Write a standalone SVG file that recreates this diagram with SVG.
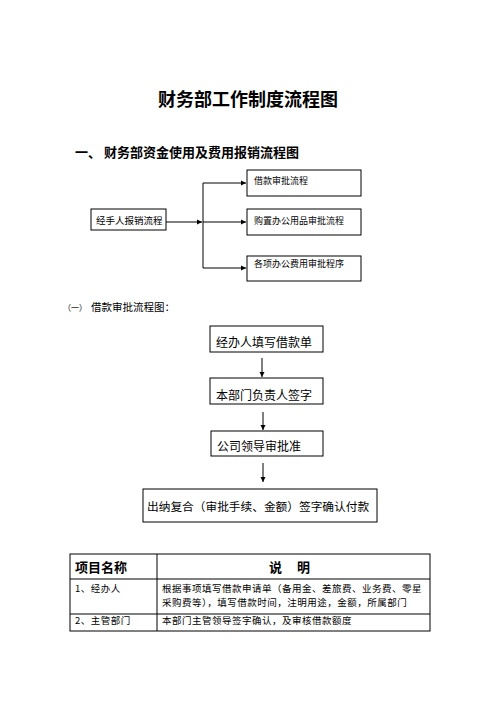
<svg xmlns="http://www.w3.org/2000/svg" width="496" height="702" viewBox="0 0 496 702">
<defs>
<marker id="ah" markerWidth="6" markerHeight="6" refX="5" refY="3" orient="auto" markerUnits="userSpaceOnUse">
<path d="M0,0.5 L5,3 L0,5.5 Z" fill="#000"/>
</marker>
</defs>
<style>
.box{fill:#fff;stroke:#000;stroke-width:1}
.ln{fill:none;stroke:#000;stroke-width:1}
.t{font-family:"Noto Sans CJK SC","Noto Sans",sans-serif;fill:#000}
.b{font-weight:bold}
.d{font-size:9.5px;letter-spacing:0.5px}
</style>
<rect width="496" height="702" fill="#fff"/>
<text class="t b" x="248" y="106" font-size="18" text-anchor="middle">财务部工作制度流程图</text>
<text class="t b" x="75" y="157" font-size="13">一、 财务部资金使用及费用报销流程图</text>

<g id="connectors">
<path class="ln" d="M166,222 H202" marker-end="url(#ah)"/>
<path class="ln" d="M203,183 V268"/>
<path class="ln" d="M203,183 H246" marker-end="url(#ah)"/>
<path class="ln" d="M203,222 H246" marker-end="url(#ah)"/>
<path class="ln" d="M203,268 H246" marker-end="url(#ah)"/>
<path class="ln" d="M262,358 V377" marker-end="url(#ah)"/>
<path class="ln" d="M263,412 V430" marker-end="url(#ah)"/>
<path class="ln" d="M263,463 V482" marker-end="url(#ah)"/>
</g>

<g id="n-jingshou">
<rect class="box" x="91" y="209" width="75" height="21"/>
<text class="t" x="96" y="223.5" font-size="9.5">经手人报销流程</text>
</g>
<g id="n-jiekuan">
<rect class="box" x="247" y="170" width="114" height="26"/>
<text class="t" x="254" y="183.5" font-size="9">借款审批流程</text>
</g>
<g id="n-gouzhi">
<rect class="box" x="247" y="209" width="114" height="26"/>
<text class="t" x="254" y="223.5" font-size="9">购置办公用品审批流程</text>
</g>
<g id="n-gexiang">
<rect class="box" x="247" y="256" width="114" height="25"/>
<text class="t" x="254" y="266.5" font-size="9">各项办公费用审批程序</text>
</g>

<text class="t" x="63" y="311" font-size="8">（一）</text>
<text class="t" x="91" y="311" font-size="10.5">借款审批流程图：</text>

<g id="n-step1">
<rect class="box" x="210" y="326" width="113" height="26"/>
<text class="t" x="216" y="347" font-size="12">经办人填写借款单</text>
</g>
<g id="n-step2">
<rect class="box" x="210" y="378" width="113" height="26"/>
<text class="t" x="216" y="400" font-size="12">本部门负责人签字</text>
</g>
<g id="n-step3">
<rect class="box" x="211" y="431" width="112" height="25"/>
<text class="t" x="217" y="451" font-size="12">公司领导审批准</text>
</g>
<g id="n-step4">
<rect class="box" x="143" y="489" width="234" height="33"/>
<text class="t" x="147" y="511" font-size="11.7">出纳复合（审批手续、金额）签字确认付款</text>
</g>

<g id="table">
<rect class="box" x="70" y="554" width="360" height="77"/>
<path class="ln" d="M157,554 V631 M70,579 H430 M70,614 H430"/>
<text class="t b" x="75" y="572" font-size="13">项目名称</text>
<text class="t b" x="269" y="572" font-size="13">说</text>
<text class="t b" x="297" y="572" font-size="13">明</text>
<text class="t d" x="75" y="592">1、经办人</text>
<text class="t d" x="162" y="592">根据事项填写借款申请单（备用金、差旅费、业务费、零星</text>
<text class="t d" x="162" y="606">采购费等），填写借款时间，注明用途，金额，所属部门</text>
<text class="t d" x="75" y="624">2、主管部门</text>
<text class="t d" x="162" y="624">本部门主管领导签字确认，及审核借款额度</text>
</g>
</svg>
